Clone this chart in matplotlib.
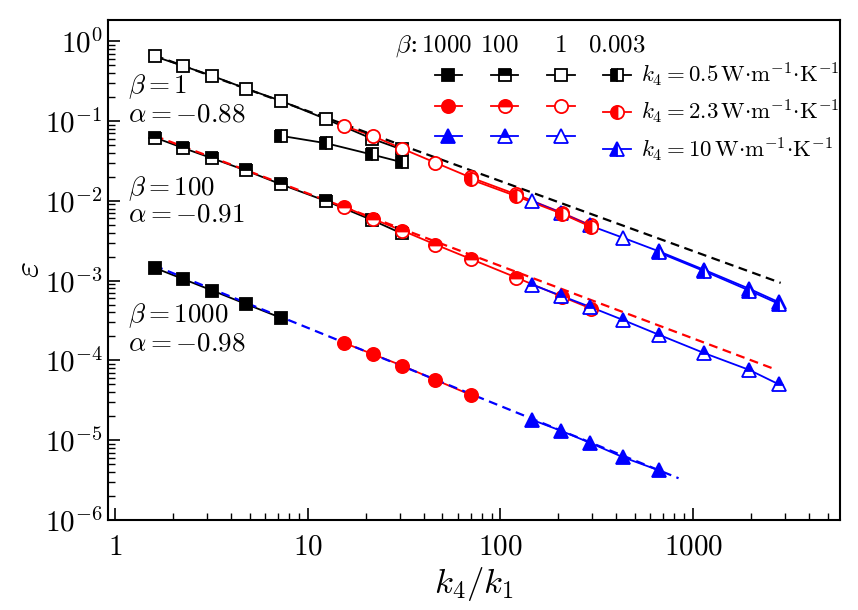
import numpy as np
import matplotlib
matplotlib.use('Agg')
import matplotlib.pyplot as plt
from matplotlib.lines import Line2D
from matplotlib.ticker import FuncFormatter, FixedLocator, LogLocator, NullFormatter

plt.rcParams['mathtext.fontset'] = 'cm'
plt.rcParams['font.family'] = ['DejaVu Serif']

# k4/k1 fuer die drei k4-Werte
x_k05 = np.array([1.61, 2.25, 3.2, 4.77, 7.3, 12.5, 21.5, 30.7])
x_k23 = np.array([15.5, 21.7, 30.9, 46.0, 70.0, 121.0, 208.0, 296.0])
x_k10 = np.array([146.0, 205.0, 291.0, 434.0, 663.0, 1136.0, 1955.0, 2790.0])

# beta = 1000 (erste 5 Punkte)
e1000_k05 = [1.44e-3, 1.05e-3, 7.5e-4, 5.1e-4, 3.4e-4]
e1000_k23 = [1.65e-4, 1.2e-4, 8.6e-5, 5.7e-5, 3.7e-5]
e1000_k10 = [1.8e-5, 1.32e-5, 9.3e-6, 6.1e-6, 4.2e-6]

# beta = 100
e100_k05 = [6.2e-2, 4.6e-2, 3.4e-2, 2.4e-2, 1.6e-2, 9.9e-3, 5.75e-3, 3.9e-3]
e100_k23 = [8.4e-3, 5.95e-3, 4.24e-3, 2.83e-3, 1.87e-3, 1.09e-3, 6.3e-4, 4.45e-4]
e100_k10 = [8.9e-4, 6.5e-4, 4.7e-4, 3.2e-4, 2.1e-4, 1.24e-4, 7.6e-5, 5.0e-5]

# beta = 1
e1_k05 = [0.643, 0.49, 0.367, 0.255, 0.178, 0.105, 0.060, 0.044]
e1_k23 = [8.65e-2, 6.5e-2, 4.5e-2, 3.0e-2, 1.96e-2, 1.2e-2, 7.1e-3, 4.9e-3]
e1_k10 = [9.9e-3, 7.1e-3, 4.9e-3, 3.43e-3, 2.33e-3, 1.37e-3, 7.9e-4, 5.35e-4]

# beta = 0.003 (Punkte 5-8)
e0003_k05 = [6.5e-2, 5.25e-2, 3.8e-2, 3.05e-2]
e0003_k23 = [1.85e-2, 1.14e-2, 6.9e-3, 4.7e-3]
e0003_k10 = [2.25e-3, 1.32e-3, 7.5e-4, 5.1e-4]

# Ausgleichsgeraden (Endpunkte)
fit1_x, fit1_y = [1.61, 2846], [0.66, 9.36e-4]
fit100_x, fit100_y = [1.61, 2566], [6.5e-2, 8.0e-5]
fit1000_x, fit1000_y = [1.6, 840], [1.54e-3, 3.34e-6]

xticks = [1, 10, 100, 1000]
yticks = [1e-6, 1e-5, 1e-4, 1e-3, 1e-2, 1e-1, 1e0]

beta_labels = ['1000', '100', '1', '0.003']
k4_labels = [r'$k_4 = 0.5\,\mathrm{W{\cdot}m^{-1}{\cdot}K^{-1}}$',
             r'$k_4 = 2.3\,\mathrm{W{\cdot}m^{-1}{\cdot}K^{-1}}$',
             r'$k_4 = 10\,\mathrm{W{\cdot}m^{-1}{\cdot}K^{-1}}$']

colors = ['black', 'red', 'blue']
markers = ['s', 'o', '^']
msizes = [8.2, 9.5, 10.5]

series = [
    (0, [(x_k05[:5], e1000_k05), (x_k23[:5], e1000_k23), (x_k10[:5], e1000_k10)]),
    (1, [(x_k05, e100_k05), (x_k23, e100_k23), (x_k10, e100_k10)]),
    (2, [(x_k05, e1_k05), (x_k23, e1_k23), (x_k10, e1_k10)]),
    (3, [(x_k05[4:], e0003_k05), (x_k23[4:], e0003_k23), (x_k10[4:], e0003_k10)]),
]


def mstyle(b, c):
    if b == 0:
        return dict(fillstyle='full', markerfacecolor=c)
    if b == 1:
        return dict(fillstyle='top', markerfacecolor=c, markerfacecoloralt='white')
    if b == 2:
        return dict(fillstyle='full', markerfacecolor='white')
    return dict(fillstyle='left', markerfacecolor=c, markerfacecoloralt='white')


fig = plt.figure(figsize=(8.58, 6.10), dpi=100)
ax = fig.add_axes([0.1259, 0.1475, 0.8531, 0.8197])

z = 3
for b, lst in series:
    for i, (xx, yy) in enumerate(lst):
        c = colors[i]
        ax.plot(xx, yy, '-', color=c, lw=1.3, zorder=2)
        ax.plot(xx, yy, linestyle='none', marker=markers[i], ms=msizes[i],
                markeredgecolor=c, markeredgewidth=1.3, zorder=z, **mstyle(b, c))
        z += 0.01

ax.plot(fit1_x, fit1_y, '--', color='black', lw=1.6, dashes=(4, 2.5), zorder=2.5)
ax.plot(fit100_x, fit100_y, '--', color='red', lw=1.6, dashes=(4, 2.5), zorder=2.5)
ax.plot(fit1000_x, fit1000_y, '--', color='blue', lw=1.6, dashes=(4, 2.5), zorder=2.5)

ax.set_xscale('log')
ax.set_yscale('log')
ax.set_xlim(0.92, 5780)
ax.set_ylim(1e-6, 1.84)

ax.xaxis.set_major_locator(FixedLocator(xticks))
ax.yaxis.set_major_locator(FixedLocator(yticks))
ax.xaxis.set_minor_locator(LogLocator(base=10, subs=np.arange(2, 10), numticks=100))
ax.yaxis.set_minor_locator(LogLocator(base=10, subs=np.arange(2, 10), numticks=100))
ax.xaxis.set_minor_formatter(NullFormatter())
ax.yaxis.set_minor_formatter(NullFormatter())
ax.xaxis.set_major_formatter(FuncFormatter(lambda v, p: r'$%d$' % round(v)))
ax.yaxis.set_major_formatter(FuncFormatter(lambda v, p: r'$10^{%d}$' % round(np.log10(v))))

ax.tick_params(which='both', direction='in', labelsize=21)
ax.tick_params(which='major', length=8.6, width=1.2)
ax.tick_params(which='minor', length=5, width=1.0)
ax.tick_params(axis='x', pad=9)
ax.tick_params(axis='y', pad=4)
for s in ax.spines.values():
    s.set_linewidth(1.5)

ax.set_xlabel(r'$k_4/k_1$', fontsize=25, labelpad=3)
ax.set_ylabel(r'$\varepsilon$', fontsize=25, labelpad=0)

# Beschriftung der Geraden
notes = [(0.853, r'$\beta = 1$'), (0.797, r'$\alpha = -0.88$'),
         (0.650, r'$\beta = 100$'), (0.597, r'$\alpha = -0.91$'),
         (0.395, r'$\beta = 1000$'), (0.339, r'$\alpha = -0.98$')]
for yy, t in notes:
    ax.text(0.027, yy, t, transform=ax.transAxes, fontsize=19.5, va='baseline')

# Legende
handles = []
labels = []
for b in range(4):
    for i in range(3):
        handles.append(Line2D([], [], color=colors[i], lw=1.3, marker=markers[i],
                              ms=msizes[i], markeredgecolor=colors[i],
                              markeredgewidth=1.3, **mstyle(b, colors[i])))
        labels.append(k4_labels[i] if b == 3 else '')
ax.legend(handles, labels, ncol=4, loc='upper right', bbox_to_anchor=(0.999, 0.918),
          fontsize=16.5, frameon=False, handlelength=1.2, handletextpad=0.45,
          columnspacing=0.8, labelspacing=0.38, borderpad=0, borderaxespad=0)

ax.text(0.422, 0.937, r'$\beta$:', transform=ax.transAxes, fontsize=18,
        ha='right', va='baseline')
for xx, t in zip([0.462, 0.535, 0.618, 0.695], beta_labels):
    ax.text(xx, 0.937, r'$%s$' % t, transform=ax.transAxes, fontsize=18,
            ha='center', va='baseline')

fig.savefig('out.png', dpi=100)
